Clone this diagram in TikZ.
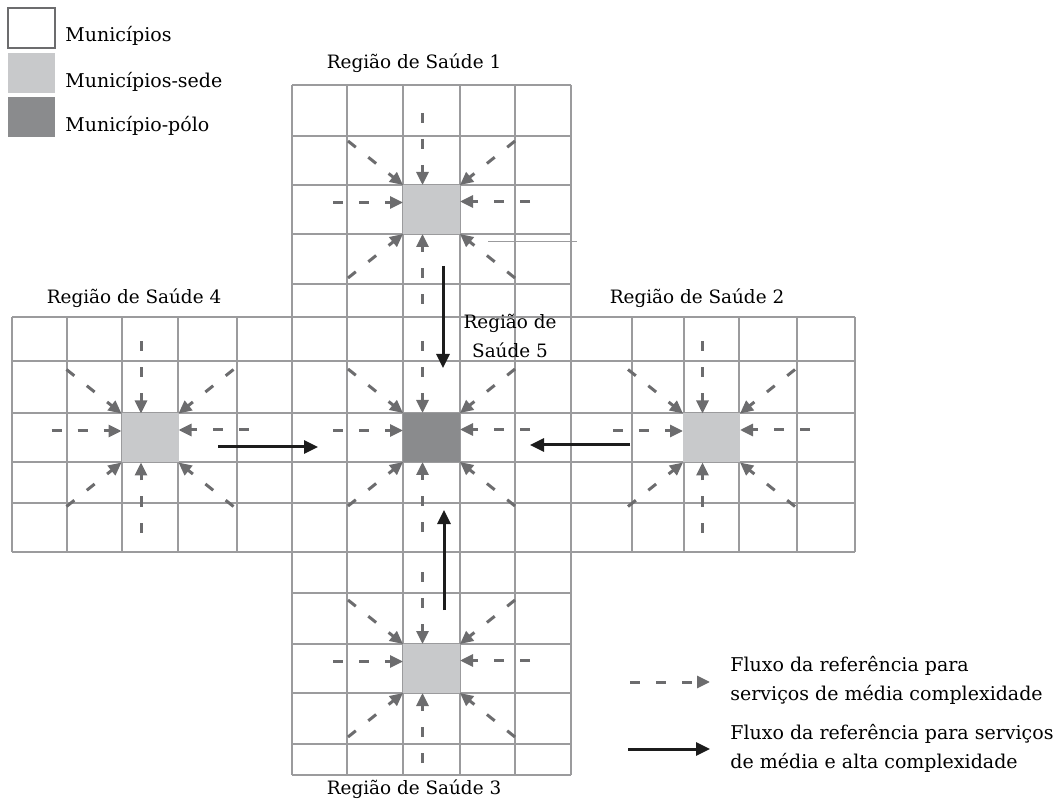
\documentclass[tikz,border=0pt]{standalone}
\usepackage{fontspec}
\setmainfont{DejaVu Serif}
\usetikzlibrary{arrows.meta,calc}

\definecolor{linhagrade}{RGB}{155,155,157}
\definecolor{cinzaseta}{RGB}{108,108,110}
\definecolor{cinzasede}{RGB}{200,201,203}
\definecolor{cinzapolo}{RGB}{138,139,141}
\definecolor{pretoseta}{RGB}{28,28,28}

\tikzset{
  grade/.style={draw=linhagrade, line width=0.6pt},
  sede/.style={fill=cinzasede, minimum width=28.5pt, minimum height=24.5pt, inner sep=0pt, outer sep=0pt},
  polo/.style={sede, fill=cinzapolo},
  caixaleg/.style={minimum width=23.5pt, minimum height=20pt, inner sep=0pt, outer sep=0pt},
  fluxo/.style={draw=cinzaseta, line width=1.5pt, dash pattern=on 5pt off 8pt, -{Triangle[length=6.5pt,width=6pt]}},
  referencia/.style={draw=pretoseta, line width=1.5pt, -{Triangle[length=7pt,width=6.5pt]}},
  rotulo/.style={font=\fontsize{9.2}{14.5}\selectfont, inner sep=0pt},
  legenda/.style={font=\fontsize{9.5}{14.5}\selectfont, inner sep=0pt, anchor=west, align=left},
}

\begin{document}
\begin{tikzpicture}[x=0.5pt,y=-0.5pt]
\useasboundingbox (0,0) rectangle (1056,802);

% grade: coluna central
\foreach \x in {292,347,403,460,515,571}
  {\draw[grade] (\x,85) -- (\x,775);}
\foreach \y in {85,136,185,234,284,593,644,693,744,775}
  {\draw[grade] (292,\y) -- (571,\y);}
% grade: faixa horizontal
\foreach \y in {317,361,413,462,503,552}
  {\draw[grade] (12,\y) -- (855,\y);}
\foreach \x in {12,67,122,178,237,632,684,739,797,855}
  {\draw[grade] (\x,317) -- (\x,552);}
\draw[draw=linhagrade, line width=0.5pt] (488,242) -- (577,242);

% municipios-sede e polo
\node[sede] (s1) at (431.5,209.5) {};
\node[sede] (s2) at (711.5,438) {};
\node[sede] (s3) at (431.5,668.5) {};
\node[sede] (s4) at (150,438) {};
\node[polo] (s5) at (431.5,437.5) {};

% fluxos de media complexidade
\foreach \s in {s1,s2,s3,s4,s5}
  \foreach \an/\ex/\ey/\dx/\dy in {north/-9/0/0/-72, south/-9/0/0/70,
      west/0/-7/-70/0, east/0/-8/70/0,
      north west/0/0/-55/-44, north east/0/0/55/-44,
      south west/0/0/-55/44, south east/0/0/55/44}
    {\draw[fluxo] ($(\s.\an)+(\ex,\ey)+(\dx,\dy)$) -- ($(\s.\an)+(\ex,\ey)$);}

% fluxos de media e alta complexidade
\coordinate (r1) at (443,266);  \coordinate (r1f) at (443,368);
\coordinate (r3) at (444,610);  \coordinate (r3f) at (444,510);
\coordinate (r4) at (218,447);  \coordinate (r4f) at (318,447);
\coordinate (r2) at (630,445);  \coordinate (r2f) at (530,445);
\draw[referencia] (r1) -- (r1f);
\draw[referencia] (r3) -- (r3f);
\draw[referencia] (r4) -- (r4f);
\draw[referencia] (r2) -- (r2f);

% nomes das regioes
\node[rotulo] (t1) at (414,63) {Região de Saúde 1};
\node[rotulo] (t2) at (697,298) {Região de Saúde 2};
\node[rotulo] (t3) at (414,789) {Região de Saúde 3};
\node[rotulo] (t4) at (134,298) {Região de Saúde 4};
\node[rotulo, align=center] (t5) at (510,336) {Região de\\Saúde 5};

% legenda
\node[caixaleg, draw=cinzaseta, line width=0.6pt] (lmun) at (31.5,28) {};
\node[caixaleg, fill=cinzasede] (lsede) at (31.5,73) {};
\node[caixaleg, fill=cinzapolo] (lpolo) at (31.5,117.5) {};
\node[legenda] (tmun) at (65,36) {Municípios};
\node[legenda] (tsede) at (65,82) {Municípios-sede};
\node[legenda] (tpolo) at (65,126) {Município-pólo};

\coordinate (lf1) at (630,682);  \coordinate (lf2) at (710,682);
\coordinate (lr1) at (628,749);  \coordinate (lr2) at (710,749);
\draw[fluxo] (lf1) -- (lf2);
\draw[referencia] (lr1) -- (lr2);
\node[legenda] (tfluxo) at (730,680)
  {Fluxo da referência para\\serviços de média complexidade};
\node[legenda] (tref) at (730,748)
  {Fluxo da referência para serviços\\de média e alta complexidade};
\end{tikzpicture}
\end{document}
